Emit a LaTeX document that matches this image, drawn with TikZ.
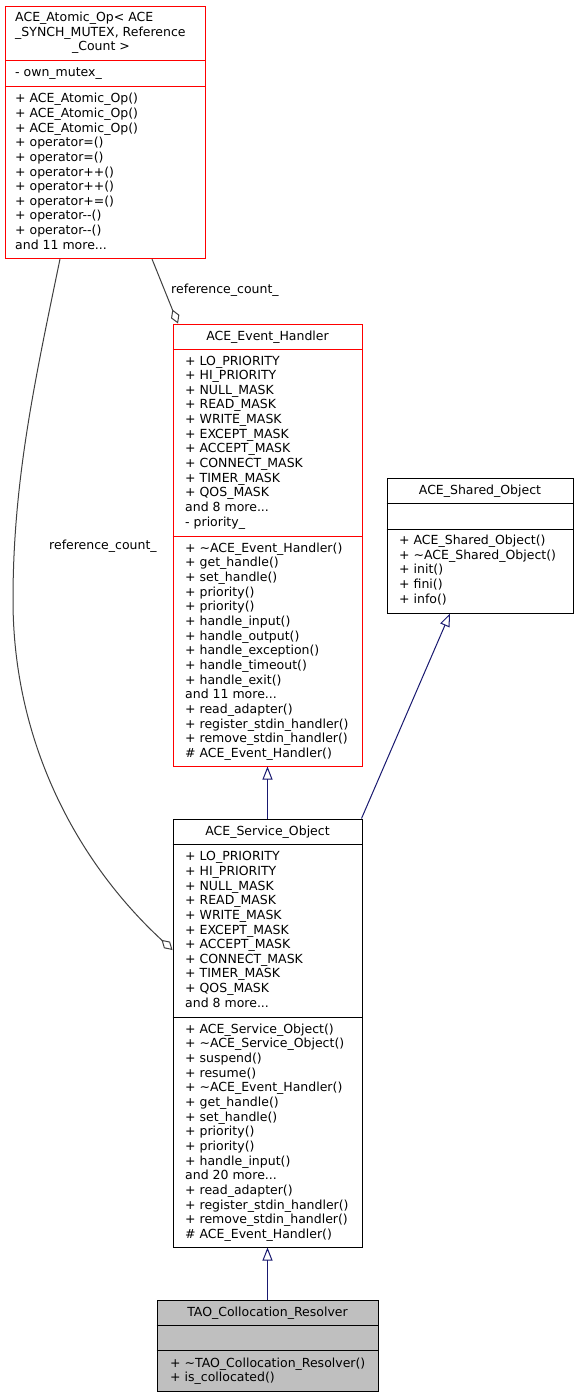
\documentclass[tikz,border=0pt]{standalone}
\usepackage{fontspec}
\setmainfont{DejaVu Sans}
\usetikzlibrary{arrows.meta}
\definecolor{edgeblue}{HTML}{191970}
\definecolor{edgegray}{HTML}{404040}
\definecolor{mainfill}{HTML}{BFBFBF}
\definecolor{boxred}{HTML}{FF0000}
\tikzset{
  cls/.style={draw,line width=1pt,inner sep=0pt,fill=white},
  member/.style={anchor=base west,inner sep=0pt,font=\fontsize{12.5pt}{14.66pt}\selectfont},
  clsname/.style={member,anchor=base},
  inherit/.style={edgeblue,line width=1pt,-{Triangle[open,length=13pt,width=10pt]}},
  aggr/.style={edgegray,line width=1pt,-{Diamond[open,length=15pt,width=9pt]}}
}
\newcommand\moredots{...}
\newcommand\memberlist[4]{%
  \foreach \m [count=\i from 0] in {#4}
    \node[member] (#1-\i) at (#2,{#3+\i*14.66}) {\m};}
\begin{document}
\begin{tikzpicture}[x=1pt,y=-1pt]
  \fill[white] (0,0) rectangle (577,1397);
  \useasboundingbox (0,0) rectangle (577,1397);
  %% ACE_Atomic_Op
  \node[cls,draw=boxred,minimum width=200pt,minimum height=252pt] (atomic) at (105.5,132.5) {};
  \draw[boxred,line width=1pt] (atomic.west |- 0,60.5) -- (atomic.east |- 0,60.5);
  \draw[boxred,line width=1pt] (atomic.west |- 0,86.5) -- (atomic.east |- 0,86.5);
  \node[member] (atomic-t1) at (15,22) {ACE\_Atomic\_Op\textless{} ACE};
  \node[member] (atomic-t2) at (15,36.7) {\_SYNCH\_MUTEX, Reference};
  \node[clsname] (atomic-t3) at (101,50.7) {\_Count \textgreater};
  \memberlist{atomic-a}{15}{77}{- own\_mutex\_}
  \memberlist{atomic-m}{15}{102.7}{+ ACE\_Atomic\_Op(),+ ACE\_Atomic\_Op(),+ ACE\_Atomic\_Op(),
    + operator=(),+ operator=(),+ operator++(),+ operator++(),+ operator+=(),
    + operator-\kern0pt-(),+ operator-\kern0pt-(),and 11 more\moredots}
  %% ACE_Event_Handler
  \node[cls,draw=boxred,minimum width=189pt,minimum height=442pt] (event) at (267.5,545) {};
  \draw[boxred,line width=1pt] (event.west |- 0,349) -- (event.east |- 0,349);
  \draw[boxred,line width=1pt] (event.west |- 0,536) -- (event.east |- 0,536);
  \node[clsname] (event-t) at (267.5,340) {ACE\_Event\_Handler};
  \memberlist{event-a}{185}{365}{+ LO\_PRIORITY,+ HI\_PRIORITY,+ NULL\_MASK,+ READ\_MASK,
    + WRITE\_MASK,+ EXCEPT\_MASK,+ ACCEPT\_MASK,+ CONNECT\_MASK,+ TIMER\_MASK,
    + QOS\_MASK,and 8 more\moredots,- priority\_}
  \memberlist{event-m}{185}{552.3}{+ \textasciitilde ACE\_Event\_Handler(),+ get\_handle(),
    + set\_handle(),+ priority(),+ priority(),+ handle\_input(),+ handle\_output(),
    + handle\_exception(),+ handle\_timeout(),+ handle\_exit(),and 11 more\moredots,
    + read\_adapter(),+ register\_stdin\_handler(),+ remove\_stdin\_handler(),
    \# ACE\_Event\_Handler()}
  %% ACE_Shared_Object
  \node[cls,minimum width=186pt,minimum height=135pt] (shared) at (480,545.5) {};
  \draw[line width=1pt] (shared.west |- 0,503) -- (shared.east |- 0,503);
  \draw[line width=1pt] (shared.west |- 0,529) -- (shared.east |- 0,529);
  \node[clsname] (shared-t) at (480,494) {ACE\_Shared\_Object};
  \memberlist{shared-m}{399}{544.5}{+ ACE\_Shared\_Object(),+ \textasciitilde ACE\_Shared\_Object(),
    + init(),+ fini(),+ info()}
  %% ACE_Service_Object
  \node[cls,minimum width=189pt,minimum height=428pt] (service) at (267.5,1033) {};
  \draw[line width=1pt] (service.west |- 0,844) -- (service.east |- 0,844);
  \draw[line width=1pt] (service.west |- 0,1017) -- (service.east |- 0,1017);
  \node[clsname] (service-t) at (267.5,835) {ACE\_Service\_Object};
  \memberlist{service-a}{185}{860.7}{+ LO\_PRIORITY,+ HI\_PRIORITY,+ NULL\_MASK,+ READ\_MASK,
    + WRITE\_MASK,+ EXCEPT\_MASK,+ ACCEPT\_MASK,+ CONNECT\_MASK,+ TIMER\_MASK,
    + QOS\_MASK,and 8 more\moredots}
  \memberlist{service-m}{185}{1033.3}{+ ACE\_Service\_Object(),+ \textasciitilde ACE\_Service\_Object(),
    + suspend(),+ resume(),+ \textasciitilde ACE\_Event\_Handler(),+ get\_handle(),
    + set\_handle(),+ priority(),+ priority(),+ handle\_input(),and 20 more\moredots,
    + read\_adapter(),+ register\_stdin\_handler(),+ remove\_stdin\_handler(),
    \# ACE\_Event\_Handler()}
  %% TAO_Collocation_Resolver
  \node[cls,fill=mainfill,minimum width=221pt,minimum height=91pt] (tao) at (267.5,1345.5) {};
  \draw[line width=1pt] (tao.west |- 0,1325) -- (tao.east |- 0,1325);
  \draw[line width=1pt] (tao.west |- 0,1350) -- (tao.east |- 0,1350);
  \node[clsname] (tao-t) at (267.5,1316) {TAO\_Collocation\_Resolver};
  \memberlist{tao-m}{170}{1367.3}{+ \textasciitilde TAO\_Collocation\_Resolver(),+ is\_collocated()}
  %% inheritance
  \draw[inherit] (service.north) -- (event.south);
  \draw[inherit] ([xshift=-1pt]service.north east) -- ([xshift=-30pt]shared.south);
  \draw[inherit] (tao.north) -- (service.south);
  %% reference_count_ members
  \coordinate (bend) at (13,600);
  \draw[aggr] ([xshift=46.5pt]atomic.south) -- ([xshift=-89.5pt]event.north);
  \draw[aggr] ([xshift=-45.5pt]atomic.south) .. controls (35,380) and (13,480) .. (bend)
    .. controls (13,740) and (75,860) .. ([yshift=83pt]service.west);
  \node[member] (ref1) at (171,293) {reference\_count\_};
  \node[member] (ref2) at (49,549) {reference\_count\_};
\end{tikzpicture}
\end{document}
